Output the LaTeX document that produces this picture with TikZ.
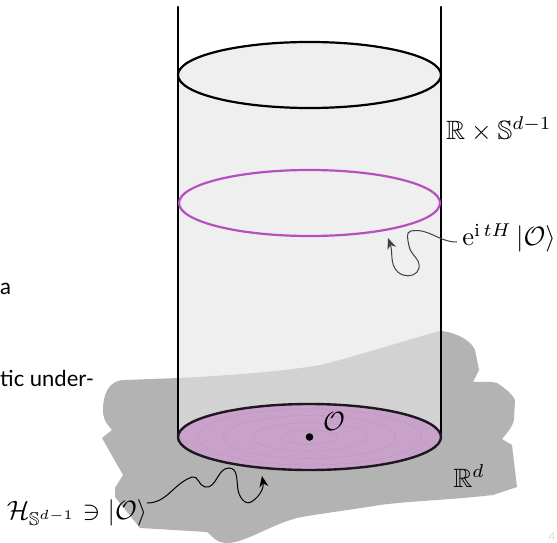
\documentclass[tikz,border=0pt]{standalone}
\usepackage{amssymb}
\usepackage{fontspec}
\newfontfamily\slidefont{Lato}
\usetikzlibrary{arrows.meta}
\definecolor{blobgray}{HTML}{B3B3B3}
\definecolor{cylfill}{HTML}{E5E5E5}
\definecolor{discfill}{HTML}{C8A2C8}
\definecolor{ringcol}{HTML}{C794D2}
\definecolor{ringpurple}{HTML}{B84FC0}
\tikzset{
  mathlabel/.style={inner sep=0pt,scale=2.65,text=black},
  slidetext/.style={inner sep=0pt,font=\slidefont\fontsize{22}{26}\selectfont,anchor=base west,text=black},
  wiggle/.style={line width=1pt,-{Stealth[length=11pt,width=9pt]}},
  ring/.style={draw=ringcol,line width=0.6pt},
  cylline/.style={line width=2.2pt,line cap=round}
}
\begin{document}
\begin{tikzpicture}[x=1pt,y=-1pt]
\useasboundingbox (0,0) rectangle (557,543);
% blob
\fill[blobgray] (125,380) -- (178,378) .. controls (220,376) and (280,372) .. (320,365)
  .. controls (350,358) and (400,342) .. (440,331) .. controls (450,331) and (470,338) .. (475,350)
  -- (479,370) -- (473,382) .. controls (485,382) and (490,381) .. (497,383) .. controls (505,388) and (512,394) .. (515,400) -- (514,420) .. controls (512,428) and (506,434) .. (502,439) -- (512,445)
  -- (517,487) -- (493,495) .. controls (450,500) and (410,501) .. (380,505)
  .. controls (350,510) and (310,515) .. (297,518) .. controls (270,525) and (245,543) .. (227,543)
  .. controls (215,543) and (212,535) .. (207,532) -- (140,528) -- (115,497) -- (115,488) -- (123,475) -- (102,438) -- (112,430)
  .. controls (105,422) and (103,418) .. (103,410) .. controls (103,395) and (108,380) .. (125,380) -- cycle;
% cylinder body
\fill[cylfill,fill opacity=0.63] (178,75) arc[start angle=180,end angle=0,x radius=131.5,y radius=-33] -- (441,437)
  arc[start angle=0,end angle=-180,x radius=131.5,y radius=-33] -- cycle;
% disc
\fill[discfill] (309.5,437) ellipse[x radius=131.5,y radius=33];
\foreach \r in {28,57,86,112}{
  \draw[ring] (309.5,437) ellipse[x radius=\r,y radius=0.25*\r];
}
% cylinder outlines
\draw[cylline] (178,7) -- (178,437);
\draw[cylline] (441,7) -- (441,437);
\draw[line width=2.2pt] (309.5,75) ellipse[x radius=131.5,y radius=33];
\draw[ringpurple,line width=2.2pt] (309.5,203) ellipse[x radius=130.5,y radius=33];
\draw[line width=2.4pt,black!85!ringcol] (309.5,437) ellipse[x radius=131.5,y radius=33];
\fill (309.5,437) circle[radius=3.8];
% labels
\node[mathlabel] (opO) at (334,421) {$\mathcal{O}$};
\node[mathlabel] (rd) at (469,476) {$\mathbb{R}^d$};
\node[mathlabel] (cyl) at (499,129) {$\mathbb{R}\times\mathbb{S}^{d-1}$};
\node[mathlabel] (evolved) at (509,238) {$\mathrm{e}^{\mathrm{i}\,tH}\,|\mathcal{O}\rangle$};
\node[mathlabel] (hilbert) at (77,513) {$\mathcal{H}_{\mathbb{S}^{d-1}}\ni|\mathcal{O}\rangle$};
\node[slidetext] (frag1) at (0,294) {a};
\node[slidetext] (frag2) at (0,386) {tic under-};
\node[inner sep=0pt,text=black!15,font=\slidefont\fontsize{11}{13}\selectfont] (pagenum) at (552,537) {4};
% wiggly connectors
\coordinate (tipA) at (388,238);
\coordinate (tipB) at (262,476);
\draw[wiggle,black!75] (evolved.west) ++(-5,4) to[out=180,in=10] (411,231) to[out=190,in=100] (409,246)
  to[out=-80,in=80] (419,268) to[out=-100,in=-20] (403,275) to[out=160,in=-70] (tipA);
\draw[wiggle] (147,503) to[out=0,in=200] (192,477) to[out=20,in=170] (205,487) to[out=-10,in=180] (229,468)
  to[out=0,in=100] (238,490) to[out=-80,in=-150] (251,502) to[out=30,in=-80] (tipB);
\end{tikzpicture}
\end{document}
